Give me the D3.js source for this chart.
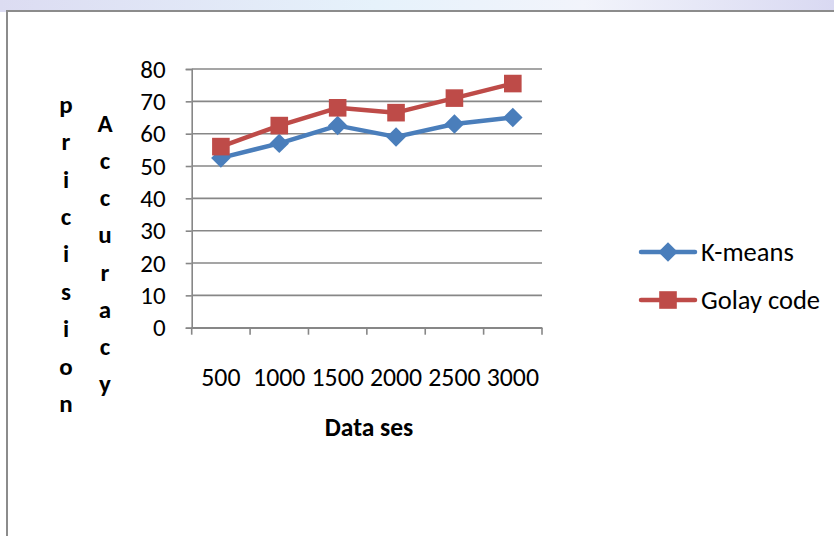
<!DOCTYPE html>
<html><head><meta charset="utf-8">
<script src="https://cdn.jsdelivr.net/npm/d3@7"></script>
<style>body{margin:0;background:#fff}svg{display:block}</style>
</head><body>
<svg id="c" width="834" height="536"></svg>
<script>
const categories = ["500","1000","1500","2000","2500","3000"];
const kmeans = [52.5, 57, 62.5, 59, 63, 65];
const golay = [56, 62.5, 68, 66.5, 71, 75.5];
const yTicks = [0,10,20,30,40,50,60,70,80];
const seriesNames = ["K-means","Golay code"];
const yTitleA = "pricision";
const yTitleB = "Accuracy";
const xTitle = "Data ses";

(function(){
const svg = d3.select("#c");
const FONT = "Carlito, Calibri, Lato, sans-serif";
const FS = 25;

const defs = svg.append("defs");
const g1 = defs.append("linearGradient").attr("id","band");
g1.append("stop").attr("offset","0").attr("stop-color","#dcdcf2");
g1.append("stop").attr("offset","0.45").attr("stop-color","#e6f2fb");
g1.append("stop").attr("offset","0.7").attr("stop-color","#f2f4fb");
g1.append("stop").attr("offset","1").attr("stop-color","#d9d9f2");
svg.append("rect").attr("x",0).attr("y",0).attr("width",834).attr("height",12).attr("fill","url(#band)");

svg.append("rect").attr("x",7).attr("y",11).attr("width",840).attr("height",540)
  .attr("fill","#fff").attr("stroke","#8c8c8c").attr("stroke-width",2);

const pl=191.7, pr=542, pt=69, pb=327.7;
const x = d3.scaleBand().domain(categories).range([pl,pr]).padding(0);
const y = d3.scaleLinear().domain([0,80]).range([pb,pt]);

svg.append("g").selectAll("line").data(yTicks).join("line")
  .attr("x1",pl).attr("x2",pr).attr("y1",d=>y(d)).attr("y2",d=>y(d))
  .attr("stroke","#878787").attr("stroke-width",1.6);

const ya = svg.append("g").attr("transform",`translate(${pl},0)`)
  .call(d3.axisLeft(y).tickValues(yTicks).tickSize(6).tickPadding(20));
ya.select(".domain").attr("stroke","#878787").attr("stroke-width",1.6);
ya.selectAll(".tick line").attr("stroke","#878787").attr("stroke-width",1.6);
ya.selectAll("text").attr("font-family",FONT).attr("font-size",FS).attr("fill","#000");

const xa = svg.append("g").attr("transform",`translate(0,${pb})`)
  .call(d3.axisBottom(x).tickSize(0).tickPadding(40));
xa.select(".domain").attr("stroke","#878787").attr("stroke-width",1.6);
xa.selectAll("text").attr("font-family",FONT).attr("font-size",25.8).attr("fill","#000");
const bounds = [...categories.map(c=>x(c)), pr];
svg.append("g").selectAll("line").data(bounds).join("line")
  .attr("x1",d=>d).attr("x2",d=>d).attr("y1",pb).attr("y2",pb+7)
  .attr("stroke","#878787").attr("stroke-width",1.6);

const cx = c => x(c)+x.bandwidth()/2;
const line = d3.line().x((d,i)=>cx(categories[i])).y(d=>y(d));
const colors = ["#4a7ebb","#be4b48"];
const rhombus = {draw(ctx,size){const r=Math.sqrt(size/2);ctx.moveTo(0,-r);ctx.lineTo(r,0);ctx.lineTo(0,r);ctx.lineTo(-r,0);ctx.closePath();}};
const diamond = d3.symbol().type(rhombus).size(190);
const square = d3.symbol().type(d3.symbolSquare).size(310);

[[kmeans,0],[golay,1]].forEach(([data,k])=>{
  svg.append("path").datum(data).attr("d",line).attr("fill","none")
    .attr("stroke",colors[k]).attr("stroke-width",4.5).attr("stroke-linejoin","round");
  svg.append("g").selectAll("path").data(data).join("path")
    .attr("transform",(d,i)=>`translate(${cx(categories[i])},${y(d)})`)
    .attr("d",k===0?diamond:square).attr("fill",colors[k]);
});

const ly=[252,300];
seriesNames.forEach((n,k)=>{
  svg.append("line").attr("x1",641).attr("x2",695).attr("y1",ly[k]).attr("y2",ly[k])
    .attr("stroke",colors[k]).attr("stroke-width",4.5).attr("stroke-linecap","round");
  svg.append("path").attr("transform",`translate(668,${ly[k]})`).attr("d",k===0?diamond:square).attr("fill",colors[k]);
  svg.append("text").attr("x",701).attr("y",ly[k]).attr("dy","0.35em")
    .attr("font-family",FONT).attr("font-size",26.5).text(n);
});

[...yTitleA].forEach((ch,i)=>{
  svg.append("text").attr("x",66).attr("y",104+i*37.4).attr("dy","0.35em").attr("text-anchor","middle")
    .attr("font-family",FONT).attr("font-weight","bold").attr("font-size",FS).text(ch);
});
[...yTitleB].forEach((ch,i)=>{
  svg.append("text").attr("x",105).attr("y",123+i*37.2).attr("dy","0.35em").attr("text-anchor","middle")
    .attr("font-family",FONT).attr("font-weight","bold").attr("font-size",FS).text(ch);
});

svg.append("text").attr("x",369).attr("y",427).attr("dy","0.35em").attr("text-anchor","middle")
  .attr("font-family",FONT).attr("font-weight","bold").attr("font-size",25.5).text(xTitle);
})();
</script>
</body></html>
